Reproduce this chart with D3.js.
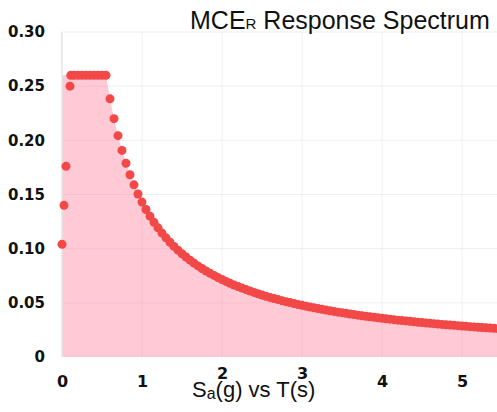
<html>
<head>
  <script src="https://d3js.org/d3.v7.min.js"></script>
  <style>
    body { margin: 0; background: #fff; }
    text { font-family: "Liberation Sans", Arial, sans-serif; }
    .tick text { font-family: "DejaVu Sans", sans-serif; font-weight: bold; font-size: 15px; fill: #111; }
    .xax .tick text { font-size: 16px; }
  </style>
</head>
<body>
<script>
  // period T (s) and spectral acceleration Sa (g)
  var periods = [0, 0.025, 0.05, 0.1, 0.11, 0.15, 0.2, 0.25, 0.3, 0.35, 0.4, 0.45, 0.5, 0.55,
    0.6, 0.65, 0.7, 0.75, 0.8, 0.85, 0.9, 0.95, 1.0, 1.05, 1.1, 1.15, 1.2, 1.25, 1.3, 1.35, 1.4, 1.45,
    1.5, 1.55, 1.6, 1.65, 1.7, 1.75, 1.8, 1.85, 1.9, 1.95, 2.0, 2.05, 2.1, 2.15, 2.2, 2.25, 2.3, 2.35,
    2.4, 2.45, 2.5, 2.55, 2.6, 2.65, 2.7, 2.75, 2.8, 2.85, 2.9, 2.95, 3.0, 3.05, 3.1, 3.15, 3.2, 3.25,
    3.3, 3.35, 3.4, 3.45, 3.5, 3.55, 3.6, 3.65, 3.7, 3.75, 3.8, 3.85, 3.9, 3.95, 4.0, 4.05, 4.1, 4.15,
    4.2, 4.25, 4.3, 4.35, 4.4, 4.45, 4.5, 4.55, 4.6, 4.65, 4.7, 4.75, 4.8, 4.85, 4.9, 4.95, 5.0, 5.05,
    5.1, 5.15, 5.2, 5.25, 5.3, 5.35, 5.4, 5.45, 5.5];
  var accel = [0.104, 0.14, 0.176, 0.25, 0.26, 0.26, 0.26, 0.26, 0.26, 0.26, 0.26, 0.26, 0.26, 0.26,
    0.2383, 0.2200, 0.2043, 0.1907, 0.1788, 0.1682, 0.1589, 0.1505, 0.1430, 0.1362, 0.1300, 0.1243,
    0.1192, 0.1144, 0.1100, 0.1059, 0.1021, 0.0986, 0.0953, 0.0923, 0.0894, 0.0867, 0.0841, 0.0817,
    0.0794, 0.0773, 0.0753, 0.0733, 0.0715, 0.0698, 0.0681, 0.0665, 0.0650, 0.0636, 0.0622, 0.0609,
    0.0596, 0.0584, 0.0572, 0.0561, 0.0550, 0.0540, 0.0530, 0.0520, 0.0511, 0.0502, 0.0493, 0.0485,
    0.0477, 0.0469, 0.0461, 0.0454, 0.0447, 0.0440, 0.0433, 0.0427, 0.0421, 0.0414, 0.0409, 0.0403,
    0.0397, 0.0392, 0.0386, 0.0381, 0.0376, 0.0371, 0.0367, 0.0362, 0.0358, 0.0353, 0.0349, 0.0345,
    0.0340, 0.0336, 0.0333, 0.0329, 0.0325, 0.0321, 0.0318, 0.0314, 0.0311, 0.0308, 0.0304, 0.0301,
    0.0298, 0.0295, 0.0292, 0.0289, 0.0286, 0.0283, 0.0280, 0.0278, 0.0275, 0.0272, 0.0270, 0.0267,
    0.0265, 0.0262, 0.0260];
  var xTicks = [0, 1, 2, 3, 4, 5];
  var yTicks = [0, 0.05, 0.10, 0.15, 0.20, 0.25, 0.30];
  var yTickLabels = ["0", "0.05", "0.10", "0.15", "0.20", "0.25", "0.30"];

  var W = 497, H = 412;
  var plotL = 62, plotR = 497, plotT = 32, plotB = 357;

  var pts = periods.map(function (t, i) { return [t, accel[i]]; });
  var peak = d3.max(accel);

  var svg = d3.select("body").append("svg")
    .attr("width", W).attr("height", H);

  var x = d3.scaleLinear().domain([0, 5.4375]).range([plotL, plotR]);
  var y = d3.scaleLinear().domain([0, 0.30]).range([plotB, plotT]);

  // shaded area: from the axis at peak height, then down the curve
  var areaPts = [[0, peak]].concat(pts.filter(function (d) { return d[0] > 0.1; }));
  var area = d3.area()
    .x(function (d) { return x(d[0]); })
    .y0(plotB)
    .y1(function (d) { return y(d[1]); });
  svg.append("path").datum(areaPts)
    .attr("d", area)
    .attr("fill", "#ffc9d5");

  // faint grid
  svg.append("g").selectAll("line").data(yTicks.slice(1)).enter().append("line")
    .attr("x1", plotL).attr("x2", plotR)
    .attr("y1", function (d) { return y(d); }).attr("y2", function (d) { return y(d); })
    .attr("stroke", "rgba(190,160,170,0.18)");
  svg.append("g").selectAll("line").data(xTicks.slice(1)).enter().append("line")
    .attr("y1", plotT).attr("y2", plotB)
    .attr("x1", function (d) { return x(d); }).attr("x2", function (d) { return x(d); })
    .attr("stroke", "rgba(190,160,170,0.18)");

  // y axis line
  svg.append("line")
    .attr("x1", plotL).attr("x2", plotL).attr("y1", plotT).attr("y2", plotB)
    .attr("stroke", "#e2e6e2").attr("stroke-width", 1.5);

  var yAxis = d3.axisLeft(y).tickValues(yTicks)
    .tickFormat(function (d, i) { return yTickLabels[i]; })
    .tickSize(0).tickPadding(17);
  svg.append("g").attr("transform", "translate(" + plotL + ",0)").call(yAxis)
    .call(function (g) { g.select(".domain").remove(); });

  var xAxis = d3.axisBottom(x).tickValues(xTicks).tickFormat(d3.format("d"))
    .tickSize(0).tickPadding(19);
  var gx = svg.append("g").attr("class", "xax")
    .attr("transform", "translate(0," + plotB + ")").call(xAxis)
    .call(function (g) { g.select(".domain").remove(); });

  // points
  svg.append("g").selectAll("circle").data(pts).enter().append("circle")
    .attr("cx", function (d) { return x(d[0]); })
    .attr("cy", function (d) { return y(d[1]); })
    .attr("r", 4.5)
    .attr("fill", "#f24848");

  // title
  var title = svg.append("text").attr("x", 190).attr("y", 29)
    .attr("font-size", 25).attr("fill", "#111");
  title.append("tspan").text("MCE");
  title.append("tspan").attr("font-size", 15).text("R");
  title.append("tspan").text(" Response Spectrum");

  // x axis title
  var xt = svg.append("text").attr("x", 192).attr("y", 397)
    .attr("font-size", 22).attr("fill", "#111");
  xt.append("tspan").text("S");
  xt.append("tspan").attr("font-size", 16).attr("dy", 2).text("a");
  xt.append("tspan").attr("dy", -2).text("(g) vs T(s)");

  // tick labels under the axis title are bumped up a little
  var tb = xt.node().getBBox();
  gx.selectAll(".tick").each(function (d) {
    var px = x(d);
    if (px > tb.x && px < tb.x + tb.width) {
      d3.select(this).select("text").attr("y", 11);
    }
  });
</script>
</body>
</html>
